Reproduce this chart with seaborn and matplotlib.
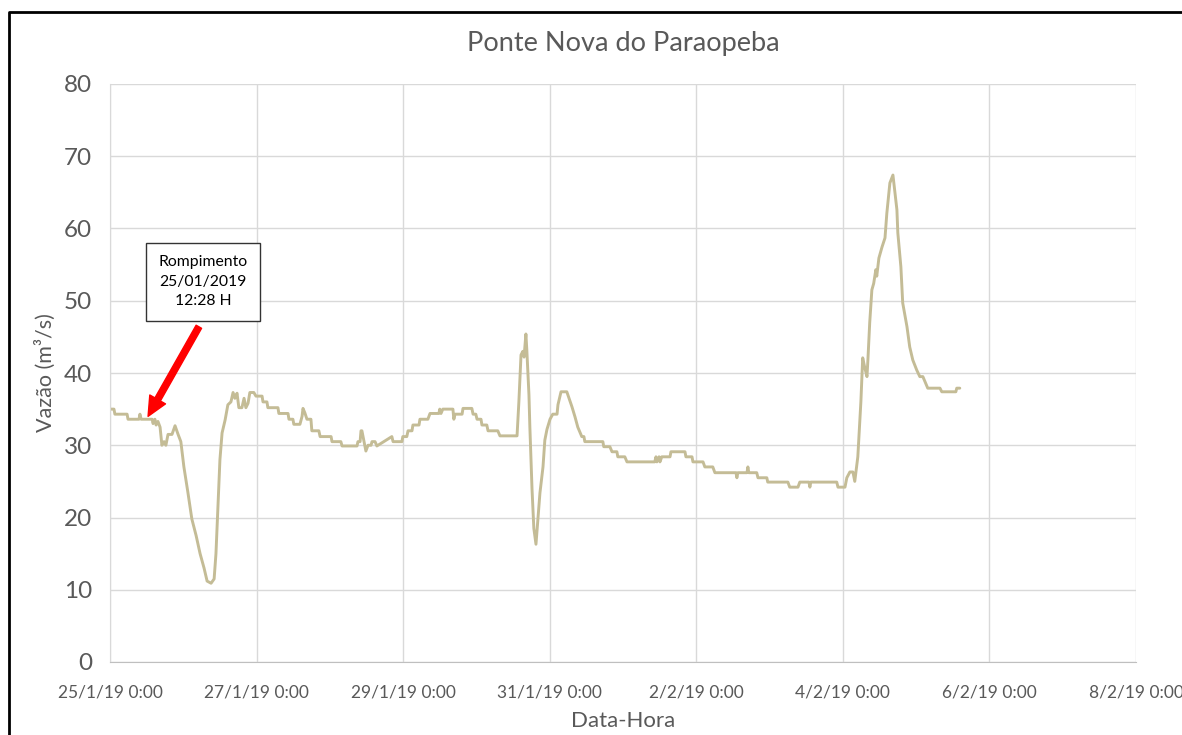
"""
Vazão em Ponte Nova do Paraopeba após o rompimento (jan/fev 2019).
"""

import matplotlib

matplotlib.use("Agg")
import matplotlib.dates as mdates
import matplotlib.pyplot as plt
import matplotlib.ticker as mticker
import pandas as pd
import seaborn as sns
from matplotlib.lines import Line2D

# hours after 25/1/19 0:00
hours = [
    0, 1.3, 1.6, 5.6, 5.9, 9.5, 9.8, 10.2, 13.8, 14.1,
    14.7, 15.1, 15.7, 16.4, 17.0, 17.7, 18.3, 19.0, 20.3, 21.3,
    22.3, 23.2, 24.2, 25.5, 26.8, 28.2, 29.5, 30.8, 31.8, 33.1,
    34.1, 34.7, 35.4, 36.0, 36.7, 37.7, 38.6, 39.6, 40.3, 40.9,
    41.6, 42.2, 43.2, 43.9, 44.5, 45.2, 45.8, 47.1, 47.8, 49.8,
    50.1, 51.4, 51.7, 55.0, 55.3, 58.3, 58.6, 59.9, 60.2, 62.2,
    62.9, 63.2, 63.8, 64.5, 65.8, 66.1, 68.4, 68.8, 72.4, 72.7,
    75.6, 76.0, 80.9, 81.2, 81.9, 82.2, 82.5, 83.2, 83.8, 84.5,
    85.5, 85.8, 86.8, 87.4, 92.3, 92.7, 95.6, 95.9, 97.2, 97.6,
    98.9, 99.2, 101.2, 101.5, 104.1, 104.8, 107.7, 108.0, 108.4, 109.0,
    109.7, 112.3, 112.6, 113.0, 115.3, 115.6, 118.5, 118.9, 119.8, 120.2,
    121.5, 121.8, 123.4, 123.8, 127.0, 127.7, 133.3, 133.9, 134.6, 135.2,
    135.6, 136.2, 136.5, 137.2, 137.5, 138.2, 138.8, 139.5, 140.1, 140.8,
    141.8, 142.4, 143.1, 144.1, 145.0, 146.4, 146.7, 147.7, 149.6, 151.3,
    152.3, 153.2, 154.5, 155.2, 155.5, 161.4, 161.7, 163.7, 164.4, 166.0,
    166.3, 168.6, 169.3, 178.4, 178.8, 179.1, 179.8, 180.1, 180.7, 183.4,
    183.7, 188.3, 188.6, 190.6, 190.9, 194.2, 194.8, 197.4, 198.1, 205.0,
    205.3, 205.6, 208.6, 208.9, 209.2, 211.8, 212.2, 215.1, 215.4, 222.0,
    222.6, 225.3, 225.9, 228.9, 229.2, 229.5, 238.0, 238.4, 240.7, 241.3,
    242.3, 243.3, 243.9, 244.9, 245.9, 246.5, 247.2, 247.9, 248.2, 248.8,
    249.5, 250.1, 250.8, 251.1, 251.8, 252.8, 253.8, 254.4, 255.4, 256.4,
    256.7, 257.7, 258.0, 259.0, 259.6, 261.0, 261.9, 262.9, 264.2, 265.2,
    266.2, 266.9, 267.8, 271.8, 272.4, 277.0, 277.3, 278.3,
]

# discharge (m3/s), same order as hours
vazao = [
    35.0, 35.0, 34.3, 34.3, 33.6, 33.6, 34.3, 33.6, 33.6, 33.0,
    33.6, 32.8, 33.3, 32.5, 30.0, 30.5, 30.0, 31.5, 31.5, 32.7,
    31.5, 30.5, 27.0, 23.5, 19.8, 17.5, 15.0, 13.0, 11.2, 10.9,
    11.5, 15.0, 22.0, 28.0, 31.7, 33.5, 35.6, 36.0, 37.3, 36.5,
    37.2, 35.2, 35.2, 36.5, 35.2, 35.8, 37.3, 37.3, 36.8, 36.8,
    36.0, 36.0, 35.2, 35.2, 34.4, 34.4, 33.6, 33.6, 32.9, 32.9,
    34.0, 35.1, 34.5, 33.6, 33.6, 32.0, 32.0, 31.2, 31.2, 30.5,
    30.5, 29.9, 29.9, 30.5, 30.5, 32.0, 32.0, 30.5, 29.2, 30.0,
    30.0, 30.5, 30.5, 29.9, 31.2, 30.5, 30.5, 31.2, 31.2, 32.0,
    32.0, 32.8, 32.8, 33.6, 33.6, 34.4, 34.4, 35.0, 34.4, 35.0,
    35.0, 35.0, 33.6, 34.3, 34.3, 35.1, 35.1, 34.3, 34.3, 33.6,
    33.6, 32.8, 32.8, 32.0, 32.0, 31.3, 31.3, 36.0, 42.5, 43.0,
    42.2, 45.4, 43.2, 37.0, 32.5, 24.0, 18.5, 16.3, 19.5, 23.4,
    27.0, 30.7, 32.2, 33.6, 34.3, 34.3, 35.6, 37.4, 37.4, 35.3,
    33.9, 32.5, 31.2, 31.2, 30.5, 30.5, 29.8, 29.8, 29.1, 29.1,
    28.4, 28.4, 27.7, 27.7, 28.4, 27.7, 28.4, 27.7, 28.4, 28.4,
    29.1, 29.1, 28.4, 28.4, 27.7, 27.7, 27.0, 27.0, 26.2, 26.2,
    25.5, 26.2, 26.2, 27.0, 26.2, 26.2, 25.5, 25.5, 24.9, 24.9,
    24.2, 24.2, 24.9, 24.9, 24.2, 24.9, 24.9, 24.2, 24.2, 25.5,
    26.3, 26.3, 25.0, 28.4, 36.0, 42.1, 40.7, 39.5, 41.8, 47.0,
    51.5, 52.4, 54.3, 53.4, 55.9, 57.4, 58.7, 62.1, 66.3, 67.4,
    66.3, 62.6, 59.4, 54.7, 49.7, 46.4, 43.6, 41.8, 40.4, 39.5,
    39.5, 38.8, 37.9, 37.9, 37.4, 37.4, 37.9, 37.9,
]

start = pd.Timestamp("2019-01-25 00:00")
x_min = pd.Timestamp("2019-01-25 00:00")
x_max = pd.Timestamp("2019-02-08 00:00")
rupture_time = pd.Timestamp("2019-01-25 12:28")
rupture_flow = 34.0

df = pd.DataFrame({"data_hora": start + pd.to_timedelta(hours, unit="h"), "vazao": vazao})

sns.set_style("white")
plt.rcParams["font.family"] = ["Lato", "DejaVu Sans"]

text_gray = "#595959"
grid_gray = "#D9D9D9"

fig = plt.figure(figsize=(11.82, 7.35), dpi=100)
ax = fig.add_axes([110 / 1182, 1 - 662 / 735, (1136 - 110) / 1182, (662 - 84) / 735])

sns.lineplot(data=df, x="data_hora", y="vazao", color="#C4BC96", linewidth=2.1, ax=ax)

ax.set_xlim(x_min, x_max)
ax.set_ylim(0, 80)
ax.yaxis.set_major_locator(mticker.MultipleLocator(10))
ax.xaxis.set_major_locator(mdates.DayLocator(interval=2))
ax.xaxis.set_minor_locator(mdates.HourLocator(byhour=[0, 12]))


def fmt_date(v, pos):
    d = mdates.num2date(v)
    return f"{d.day}/{d.month}/{d:%y} {d.hour}:{d:%M}"


ax.xaxis.set_major_formatter(mticker.FuncFormatter(fmt_date))

ax.grid(True, which="major", color=grid_gray, linewidth=1)
for side in ("top", "right"):
    ax.spines[side].set_visible(False)
ax.spines["left"].set_color(grid_gray)
ax.spines["bottom"].set_color("#BFBFBF")
ax.tick_params(axis="y", length=0, labelsize=17.5, labelcolor=text_gray, pad=13)
ax.tick_params(axis="x", which="major", length=0, labelsize=12.5, labelcolor=text_gray, pad=16)
ax.tick_params(axis="x", which="minor", direction="in", length=4, color="#BFBFBF")

ax.set_xlabel("Data-Hora", fontsize=16, color=text_gray, labelpad=8)
ax.set_ylabel("Vazão (m³/s)", fontsize=15.5, color=text_gray, labelpad=6)
ax.set_title("Ponte Nova do Paraopeba", fontsize=19.5, color=text_gray, pad=24)

# callout box for the dam failure
ax.text(
    start + pd.Timedelta(hours=30.4), 52.6,
    "Rompimento\n25/01/2019\n12:28 H",
    ha="center",
    va="center",
    fontsize=11.3,
    color="black",
    linespacing=1.5,
    bbox=dict(boxstyle="square,pad=0.8", fc="white", ec="#333333", lw=1),
    zorder=5,
)
ax.annotate(
    "",
    xy=(rupture_time, rupture_flow),
    xytext=(start + pd.Timedelta(hours=29.1), 46.4),
    arrowprops=dict(arrowstyle="simple,head_length=1.4,head_width=1.3,tail_width=0.45",
                    color="#FF0000", shrinkA=0, shrinkB=0),
    zorder=6,
)

# outer frame (left and top edges)
fig.add_artist(Line2D([9 / 1182, 9 / 1182, 1.0], [0, 1 - 12 / 735, 1 - 12 / 735],
                      transform=fig.transFigure, color="black", linewidth=2))

fig.savefig("out.png", dpi=100)
plt.close(fig)
